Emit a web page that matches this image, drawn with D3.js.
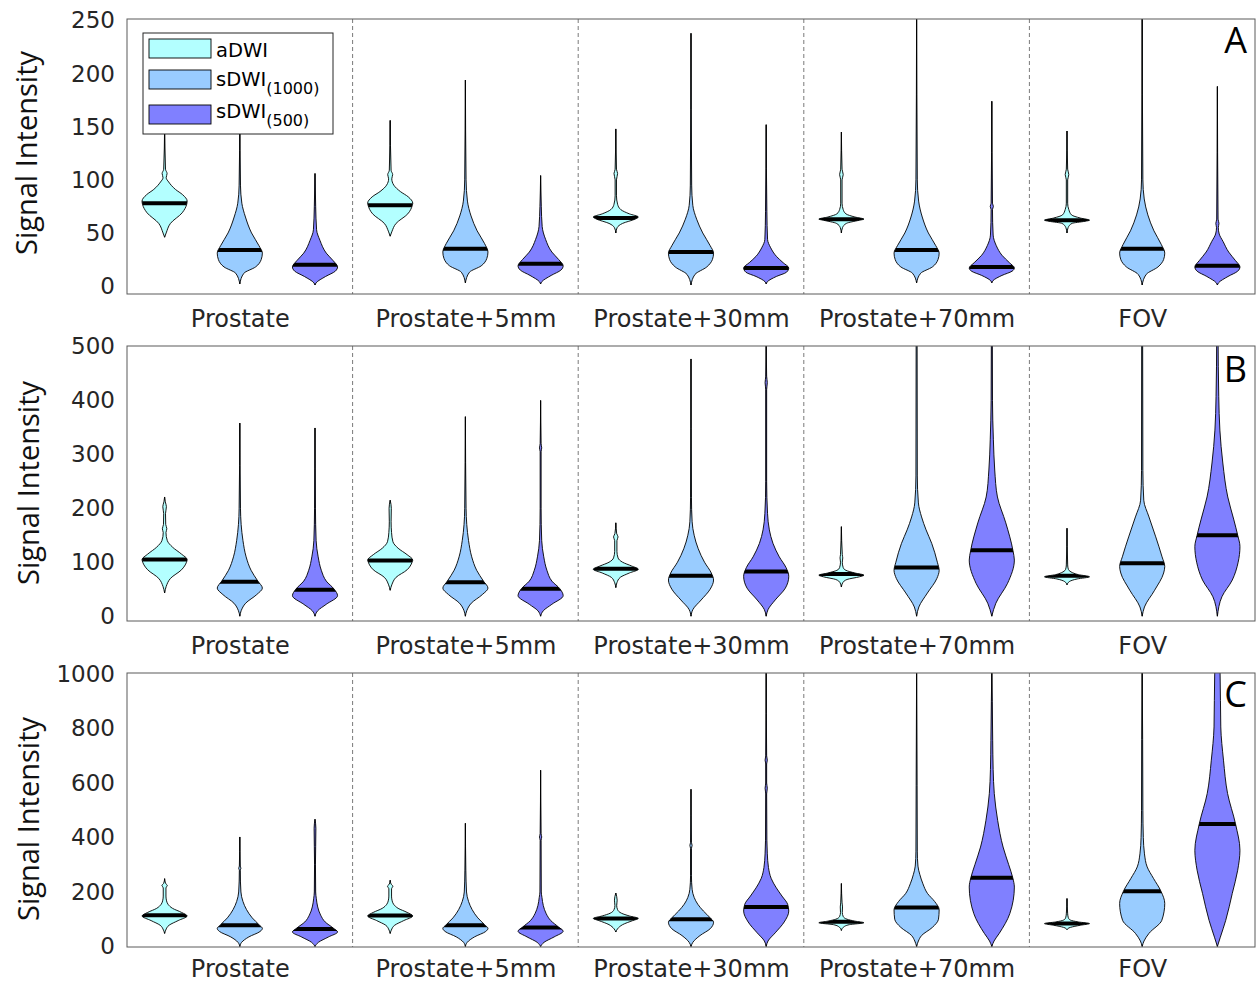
<!DOCTYPE html>
<html>
<head>
<meta charset="utf-8">
<script src="https://cdn.jsdelivr.net/npm/d3@7"></script>
<style>
  body { margin: 0; background: #fff; }
  svg { display: block; }
</style>
</head>
<body>
<svg id="chart" width="1257" height="983"></svg>
<script>
// categories and series
var groups = ["Prostate", "Prostate+5mm", "Prostate+30mm", "Prostate+70mm", "FOV"];
var seriesNames = ["aDWI", "sDWI", "sDWI"];
var seriesSubs = ["", "(1000)", "(500)"];
var seriesColors = ["#b3ffff", "#99ccff", "#8080ff"];

var ticksA = [0, 50, 100, 150, 200, 250];
var ticksB = [0, 100, 200, 300, 400, 500];
var ticksC = [0, 200, 400, 600, 800, 1000];

// medians, order: group by group, aDWI / sDWI(1000) / sDWI(500)
var mediansA = [78, 34, 20, 76, 35, 21, 64, 32, 17, 63, 34, 18, 62, 35, 19];
var mediansB = [105, 64, 49, 103, 63, 51, 88, 75, 83, 78, 90, 122, 75, 98, 150];
var mediansC = [115, 78, 64, 114, 78, 70, 103, 100, 145, 91, 143, 252, 84, 203, 450];

// violin outlines: [value, relative half width]
var profilesA = [
  [[46,0],[50,0.07],[59,0.26],[69,0.78],[77,0.98],[80,1],[86,0.8],[91,0.48],[98,0.18],[102,0.07],[106,0.11],[110,0.04],[150,0]],
  [[2,0],[12,0.18],[18,0.7],[25,0.95],[31,1],[38,0.85],[50,0.52],[65,0.25],[78,0.09],[95,0.03],[160,0]],
  [[1,0],[3,0.05],[9,0.47],[14,0.9],[18,1],[24,0.8],[31,0.5],[43,0.22],[53,0.07],[75,0.03],[106,0]],
  [[47,0],[51,0.07],[59,0.26],[68,0.78],[76,0.98],[78,1],[84,0.8],[89,0.45],[95,0.16],[101,0.07],[105,0.11],[109,0.04],[156,0]],
  [[3,0],[13,0.18],[19,0.7],[26,0.95],[32,1],[40,0.85],[52,0.52],[66,0.25],[80,0.09],[100,0.03],[194,0]],
  [[2,0],[4,0.05],[10,0.47],[15,0.9],[19,1],[25,0.8],[32,0.5],[44,0.22],[56,0.07],[75,0.03],[104,0]],
  [[50,0],[55,0.06],[59,0.3],[63,0.85],[65,1],[68,0.6],[72,0.22],[77,0.08],[85,0.03],[100,0.03],[106,0.08],[110,0.03],[148,0]],
  [[1,0],[11,0.18],[18,0.7],[25,0.95],[31,1],[38,0.85],[50,0.52],[63,0.25],[76,0.08],[95,0.03],[238,0]],
  [[2,0],[4,0.05],[9,0.45],[13,0.9],[17,1],[22,0.75],[28,0.45],[36,0.2],[44,0.06],[70,0.03],[152,0]],
  [[50,0],[55,0.05],[59,0.22],[62,0.8],[63,1],[65,0.6],[68,0.2],[72,0.08],[78,0.03],[100,0.03],[105,0.08],[110,0.03],[145,0]],
  [[3,0],[12,0.18],[18,0.7],[25,0.95],[31,1],[38,0.85],[50,0.52],[65,0.25],[80,0.09],[100,0.03],[260,0]],
  [[3,0],[5,0.05],[10,0.45],[14,0.9],[17,1],[22,0.78],[29,0.45],[38,0.2],[48,0.06],[72,0.03],[75,0.07],[78,0.03],[174,0]],
  [[50,0],[55,0.05],[59,0.22],[61,0.8],[62,1],[64,0.6],[67,0.2],[72,0.08],[78,0.03],[100,0.03],[105,0.08],[110,0.03],[146,0]],
  [[1,0],[11,0.18],[18,0.7],[25,0.95],[31,1],[39,0.85],[52,0.52],[67,0.25],[82,0.09],[100,0.03],[260,0]],
  [[1,0],[3,0.05],[9,0.47],[14,0.9],[18,1],[24,0.8],[32,0.5],[42,0.25],[49,0.08],[55,0.04],[59,0.07],[63,0.03],[188,0]]
];

var profilesB = [
  [[43,0],[55,0.07],[70,0.26],[86,0.75],[100,0.97],[105,1],[115,0.75],[128,0.35],[140,0.12],[155,0.06],[162,0.1],[170,0.05],[190,0.04],[203,0.08],[212,0.03],[221,0]],
  [[0,0],[10,0.06],[24,0.26],[40,0.75],[52,1],[65,0.8],[85,0.5],[110,0.28],[140,0.14],[170,0.06],[200,0.03],[358,0]],
  [[0,0],[10,0.12],[22,0.5],[38,1],[50,0.85],[65,0.5],[85,0.28],[110,0.14],[140,0.05],[200,0.02],[349,0]],
  [[48,0],[58,0.07],[72,0.26],[86,0.75],[100,0.97],[104,1],[114,0.75],[126,0.35],[138,0.12],[155,0.06],[175,0.04],[200,0.05],[215,0]],
  [[0,0],[10,0.06],[24,0.26],[40,0.75],[52,1],[65,0.8],[85,0.5],[110,0.28],[140,0.14],[170,0.06],[200,0.03],[370,0]],
  [[0,0],[10,0.12],[22,0.5],[38,1],[51,0.85],[65,0.5],[85,0.28],[110,0.14],[140,0.05],[200,0.02],[305,0.02],[312,0.05],[320,0.02],[400,0]],
  [[53,0],[62,0.05],[72,0.2],[80,0.6],[87,1],[93,0.7],[100,0.3],[108,0.1],[120,0.05],[140,0.05],[147,0.1],[153,0.04],[173,0]],
  [[0,0],[12,0.08],[30,0.45],[50,0.85],[67,1],[80,0.9],[100,0.6],[125,0.32],[150,0.14],[175,0.05],[220,0.02],[477,0]],
  [[0,0],[12,0.08],[30,0.4],[52,0.85],[74,1],[90,0.88],[110,0.58],[135,0.3],[160,0.14],[190,0.06],[250,0.02],[420,0.02],[433,0.05],[445,0.02],[520,0]],
  [[54,0],[62,0.06],[68,0.25],[73,0.8],[76,1],[80,0.6],[85,0.2],[90,0.08],[100,0.04],[108,0.06],[114,0.04],[166,0]],
  [[0,0],[17,0.1],[43,0.48],[70,0.9],[85,1],[100,0.92],[135,0.67],[160,0.42],[184,0.22],[210,0.08],[260,0.03],[520,0.02]],
  [[0,0],[24,0.18],[61,0.7],[104,1],[121,0.94],[173,0.62],[221,0.25],[271,0.13],[327,0.07],[400,0.03],[520,0.02]],
  [[58,0],[64,0.1],[69,0.45],[73,1],[77,0.5],[82,0.18],[87,0.06],[95,0.03],[163,0]],
  [[0,0],[17,0.1],[48,0.55],[80,0.95],[92,1],[110,0.88],[147,0.6],[184,0.3],[215,0.07],[270,0.03],[520,0.02]],
  [[0,0],[36,0.2],[67,0.66],[100,0.92],[129,1],[150,0.9],[180,0.72],[221,0.46],[284,0.24],[345,0.11],[407,0.06],[520,0.03]]
];

var profilesC = [
  [[48,0],[60,0.05],[78,0.2],[95,0.6],[112,1],[125,0.75],[140,0.35],[155,0.15],[170,0.08],[185,0.06],[215,0.06],[224,0.12],[232,0.04],[249,0]],
  [[0,0],[15,0.08],[35,0.4],[55,0.9],[66,1],[80,0.85],[105,0.55],[135,0.3],[165,0.14],[200,0.05],[280,0.02],[287,0.05],[295,0.02],[402,0]],
  [[0,0],[15,0.15],[35,0.6],[53,1],[68,0.8],[90,0.45],[115,0.25],[145,0.12],[175,0.06],[200,0.03],[300,0.02],[434,0.04],[467,0]],
  [[48,0],[60,0.05],[78,0.2],[95,0.6],[112,1],[125,0.75],[140,0.35],[155,0.15],[170,0.08],[185,0.06],[212,0.06],[221,0.12],[229,0.04],[243,0]],
  [[0,0],[15,0.08],[35,0.4],[55,0.9],[66,1],[80,0.85],[105,0.55],[135,0.3],[165,0.14],[200,0.05],[280,0.02],[452,0]],
  [[0,0],[15,0.15],[35,0.6],[56,1],[71,0.8],[95,0.45],[120,0.25],[150,0.12],[180,0.06],[200,0.03],[390,0.02],[402,0.05],[414,0.02],[647,0]],
  [[53,0],[65,0.08],[80,0.3],[95,0.75],[103,1],[112,0.6],[122,0.25],[135,0.08],[150,0.04],[170,0.06],[196,0]],
  [[0,0],[15,0.08],[40,0.4],[65,0.85],[89,1],[105,0.85],[130,0.55],[155,0.3],[180,0.14],[210,0.05],[260,0.02],[360,0.02],[371,0.05],[382,0.02],[577,0]],
  [[0,0],[20,0.08],[50,0.4],[90,0.8],[130,1],[155,0.95],[185,0.7],[215,0.45],[250,0.22],[290,0.1],[340,0.05],[390,0.03],[560,0.02],[581,0.05],[600,0.02],[670,0.02],[684,0.05],[700,0.02],[1010,0]],
  [[59,0],[70,0.08],[80,0.35],[87,1],[93,0.6],[100,0.25],[110,0.08],[125,0.04],[145,0.05],[160,0.03],[231,0]],
  [[0,0],[20,0.08],[40,0.22],[70,0.7],[100,0.97],[135,1],[165,0.8],[195,0.48],[230,0.28],[265,0.14],[295,0.06],[350,0.03],[590,0.02],[1010,0]],
  [[0,0],[20,0.1],[48,0.33],[121,0.8],[218,1],[252,0.93],[300,0.75],[365,0.5],[463,0.26],[561,0.11],[650,0.06],[757,0.04],[900,0.02],[1010,0]],
  [[62,0],[70,0.15],[78,0.6],[84,1],[90,0.5],[97,0.15],[105,0.06],[120,0.03],[176,0]],
  [[0,0],[20,0.08],[48,0.3],[96,0.87],[158,1],[203,0.83],[250,0.5],[292,0.22],[340,0.1],[400,0.05],[500,0.03],[760,0.02],[1010,0]],
  [[0,0],[34,0.13],[96,0.37],[195,0.66],[280,0.9],[353,1],[451,0.8],[562,0.45],[684,0.27],[806,0.15],[1000,0.12],[1100,0.08]]
];

var left = 127, right = 1255;
var panels = [
  { letter: "A", top: 19,  bottom: 294, domain: [-7.5, 251.5], ticks: ticksA, medians: mediansA, profiles: profilesA, titleX: 37, titleY: 153, letterY: 53, labelY: 33 },
  { letter: "B", top: 346, bottom: 621, domain: [-9, 501],     ticks: ticksB, medians: mediansB, profiles: profilesB, titleX: 39, titleY: 483, letterY: 382, labelY: 33 },
  { letter: "C", top: 673, bottom: 947, domain: [-2, 1004],    ticks: ticksC, medians: mediansC, profiles: profilesC, titleX: 39, titleY: 819, letterY: 707, labelY: 30 }
];

var svg = d3.select("#chart");
var defs = svg.append("defs");

var x = d3.scaleLinear().domain([0.5, 15.5]).range([left, right]);
var hw = x(0.3) - x(0);   // half width of the widest part of a violin
var dividers = [3.5, 6.5, 9.5, 12.5];
var groupCenters = [2, 5, 8, 11, 14];

panels.forEach(function(p, pi) {
  var y = d3.scaleLinear().domain(p.domain).range([p.bottom, p.top]);
  var g = svg.append("g");

  var clipId = "plot" + pi;
  defs.append("clipPath").attr("id", clipId)
    .append("rect")
    .attr("x", left).attr("y", p.top)
    .attr("width", right - left).attr("height", p.bottom - p.top);

  // dashed group separators
  g.selectAll(".sep").data(dividers).enter().append("line")
    .attr("x1", function(d) { return x(d); })
    .attr("x2", function(d) { return x(d); })
    .attr("y1", p.top).attr("y2", p.bottom)
    .attr("stroke", "#7a7a7a")
    .attr("stroke-width", 1)
    .attr("stroke-dasharray", "4,3");

  var plot = g.append("g").attr("clip-path", "url(#" + clipId + ")");

  p.profiles.forEach(function(prof, i) {
    var cx = x(i + 1);
    var color = seriesColors[i % 3];
    var area = d3.area()
      .curve(d3.curveMonotoneY)
      .y(function(d) { return y(d[0]); })
      .x0(function(d) { return cx - d[1] * hw; })
      .x1(function(d) { return cx + d[1] * hw; });
    var path = area(prof);

    // thin tail
    plot.append("line")
      .attr("x1", cx).attr("x2", cx)
      .attr("y1", y(prof[0][0])).attr("y2", y(prof[prof.length - 1][0]))
      .attr("stroke", "#111")
      .attr("stroke-width", 1.1);

    plot.append("path")
      .attr("d", path)
      .attr("fill", color)
      .attr("stroke", "#000")
      .attr("stroke-width", 0.9);

    var vid = "v" + pi + "_" + i;
    defs.append("clipPath").attr("id", vid).append("path").attr("d", path);

    plot.append("line")
      .attr("x1", cx - hw).attr("x2", cx + hw)
      .attr("y1", y(p.medians[i])).attr("y2", y(p.medians[i]))
      .attr("stroke", "#000")
      .attr("stroke-width", 4)
      .attr("clip-path", "url(#" + vid + ")");
  });

  // frame
  g.append("rect")
    .attr("x", left).attr("y", p.top)
    .attr("width", right - left).attr("height", p.bottom - p.top)
    .attr("fill", "none")
    .attr("stroke", "#5a5a5a")
    .attr("stroke-width", 1);

  // y axis
  var yAxis = g.append("g")
    .attr("transform", "translate(" + left + ",0)")
    .call(d3.axisLeft(y).tickValues(p.ticks).tickSize(0).tickPadding(12)
      .tickFormat(d3.format("d")));
  yAxis.select(".domain").remove();
  yAxis.selectAll("text")
    .attr("font-family", "DejaVu Sans")
    .attr("font-size", 23)
    .attr("fill", "#262626");

  // x axis (group labels)
  var xAxis = g.append("g")
    .attr("transform", "translate(0," + p.bottom + ")")
    .call(d3.axisBottom(x).tickValues(groupCenters).tickSize(0)
      .tickFormat(function(d, i) { return groups[i]; }));
  xAxis.select(".domain").remove();
  xAxis.selectAll("text")
    .attr("y", p.labelY).attr("dy", null)
    .attr("font-family", "DejaVu Sans")
    .attr("font-size", 24)
    .attr("fill", "#262626");

  // axis title
  g.append("text")
    .attr("transform", "translate(" + p.titleX + "," + p.titleY + ") rotate(-90)")
    .attr("text-anchor", "middle")
    .attr("font-family", "Open Sans")
    .attr("font-size", 29)
    .attr("fill", "#111")
    .text("Signal Intensity");

  // panel letter
  g.append("text")
    .attr("x", 1247).attr("y", p.letterY)
    .attr("text-anchor", "end")
    .attr("font-family", "Open Sans")
    .attr("font-size", 36)
    .attr("fill", "#000")
    .text(p.letter);
});

// legend (panel A)
var legend = svg.append("g");
legend.append("rect")
  .attr("x", 143).attr("y", 33).attr("width", 190).attr("height", 101)
  .attr("fill", "#fff").attr("stroke", "#262626").attr("stroke-width", 1);

var legendRows = [39, 70, 105];
var legendText = [57, 86, 118];
seriesNames.forEach(function(name, i) {
  legend.append("rect")
    .attr("x", 149).attr("y", legendRows[i]).attr("width", 62).attr("height", 19)
    .attr("fill", seriesColors[i]).attr("stroke", "#000").attr("stroke-width", 0.9);
  var t = legend.append("text")
    .attr("x", 216).attr("y", legendText[i])
    .attr("font-family", "DejaVu Sans")
    .attr("font-size", 19.5)
    .attr("fill", "#000");
  t.append("tspan").text(name);
  if (seriesSubs[i]) {
    t.append("tspan")
      .attr("font-size", 16)
      .attr("dy", 8)
      .text(seriesSubs[i]);
  }
});
</script>
</body>
</html>
